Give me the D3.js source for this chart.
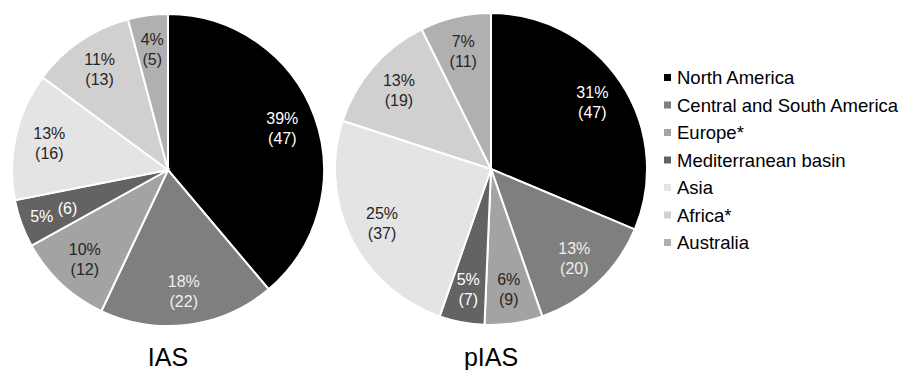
<!DOCTYPE html>
<html>
<head>
<meta charset="utf-8">
<script src="https://cdn.jsdelivr.net/npm/d3@7"></script>
<style>
  html, body { margin: 0; padding: 0; background: #fff; }
  svg { display: block; font-family: "Liberation Sans", Arial, sans-serif; }
</style>
</head>
<body>
<svg id="chart" width="916" height="370"></svg>
<script>
// Regions of origin, in drawing order (clockwise from 12 o'clock)
const regions = ["North America", "Central and South America", "Europe*",
  "Mediterranean basin", "Asia", "Africa*", "Australia"];
// Number of species per region
const iasCounts  = [47, 22, 12, 6, 16, 13, 5];
const piasCounts = [47, 20, 9, 7, 37, 19, 11];
const pieTitles = ["IAS", "pIAS"];

const fills = ["#000000", "#7f7f7f", "#a3a3a3", "#636363", "#e4e4e4", "#d0d0d0", "#b0b0b0"];
const labelInk = ["#ffffff", "#eeeeee", "#262626", "#ffffff", "#262626", "#262626", "#262626"];

const svg = d3.select("#chart");
const radius = 156;
const centers = [[168, 170], [491, 169]];

const pie = d3.pie().sort(null).value(d => d.value);
const arc = d3.arc().innerRadius(0).outerRadius(radius);
const labelArc = d3.arc().innerRadius(radius * 0.78).outerRadius(radius * 0.78);

[iasCounts, piasCounts].forEach((counts, k) => {
  const total = d3.sum(counts);
  const data = counts.map((v, i) => ({ region: regions[i], value: v, i }));
  const g = svg.append("g").attr("transform", `translate(${centers[k][0]},${centers[k][1]})`);

  const slices = pie(data);
  g.selectAll("path.slice").data(slices).join("path")
    .attr("class", "slice")
    .attr("d", arc)
    .attr("fill", d => fills[d.data.i])
    .attr("stroke", "#ffffff")
    .attr("stroke-width", 2);

  slices.forEach(d => {
    const [x, y] = labelArc.centroid(d);
    const pct = Math.round(d.data.value / total * 100) + "%";
    const cnt = "(" + d.data.value + ")";
    const mid = (d.startAngle + d.endAngle) / 2;
    const narrow = (d.endAngle - d.startAngle) < 0.35 && Math.abs(Math.sin(mid)) > 0.7;
    const t = g.append("text")
      .attr("font-size", 16)
      .attr("fill", labelInk[d.data.i])
      .attr("text-anchor", "middle");
    if (narrow) {
      // thin sideways slice: percentage and count share one line
      t.attr("x", x).attr("y", y + 10);
      t.append("tspan").text(pct + " ");
      t.append("tspan").attr("dy", -8).text(cnt);
    } else {
      t.append("tspan").attr("x", x).attr("y", y - 4).text(pct);
      t.append("tspan").attr("x", x).attr("y", y + 16).text(cnt);
    }
  });

  svg.append("text")
    .attr("x", centers[k][0])
    .attr("y", 366)
    .attr("text-anchor", "middle")
    .attr("font-size", 25)
    .attr("fill", "#000")
    .text(pieTitles[k]);
});

// Legend
const legend = svg.append("g").attr("transform", "translate(664,84)");
regions.forEach((r, i) => {
  const row = legend.append("g").attr("transform", `translate(0,${i * 27.5})`);
  row.append("rect").attr("x", 0).attr("y", -10).attr("width", 7).attr("height", 7)
    .attr("fill", fills[i]);
  row.append("text").attr("x", 13).attr("y", 0)
    .attr("font-size", 18.5).attr("fill", "#000").text(r);
});
</script>
</body>
</html>
